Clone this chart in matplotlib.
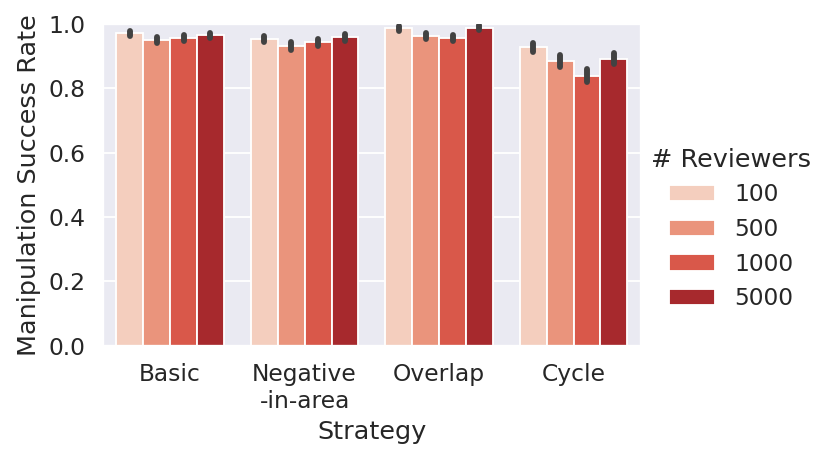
import numpy as np
import pandas as pd
import matplotlib
matplotlib.use("Agg")
import matplotlib.pyplot as plt
import seaborn as sns

# Values
strategies = ["Basic", "Negative\n-in-area", "Overlap", "Cycle"]
reviewers = ["100", "500", "1000", "5000"]
success = {
    "100":  [0.970, 0.953, 0.986, 0.927],
    "500":  [0.949, 0.931, 0.961, 0.885],
    "1000": [0.956, 0.942, 0.956, 0.839],
    "5000": [0.964, 0.958, 0.988, 0.892],
}
ci_half = {
    "100":  [0.009, 0.010, 0.008, 0.014],
    "500":  [0.010, 0.011, 0.009, 0.018],
    "1000": [0.009, 0.011, 0.009, 0.021],
    "5000": [0.009, 0.010, 0.008, 0.017],
}

rows = []
for r in reviewers:
    for s, v, e in zip(strategies, success[r], ci_half[r]):
        rows.append({"Strategy": s, "# Reviewers": r, "rate": v, "err": e})
df = pd.DataFrame(rows)

sns.set_theme(style="darkgrid", font_scale=1.15)

DPI = 133
fig, ax = plt.subplots(figsize=(830 / DPI, 458 / DPI), dpi=DPI)
sns.barplot(data=df, x="Strategy", y="rate", hue="# Reviewers",
            palette="Reds", errorbar=None, ax=ax, order=strategies,
            hue_order=reviewers)

# error bars on top of each bar
bar_groups = list(ax.containers)
for r, container in zip(reviewers, bar_groups):
    xs = [p.get_x() + p.get_width() / 2 for p in container.patches]
    eb = ax.errorbar(xs, success[r], yerr=ci_half[r], fmt="none",
                     ecolor=".26", elinewidth=3.2, capsize=0, zorder=5)
    for coll in eb.lines[2]:
        coll.set_capstyle("round")

ax.set_ylim(0, 1.0)
ax.set_xlim(-0.5, 3.5)
ax.set_xlabel("Strategy")
ax.set_ylabel("Manipulation Success Rate")

handles, labels = ax.get_legend_handles_labels()
ax.get_legend().remove()
fig.subplots_adjust(left=0.124, right=0.772, bottom=0.245, top=0.948)
fig.legend(handles, labels, title="# Reviewers", loc="center left",
           bbox_to_anchor=(0.759, 0.5), frameon=False)

fig.savefig("out.png", dpi=DPI)
